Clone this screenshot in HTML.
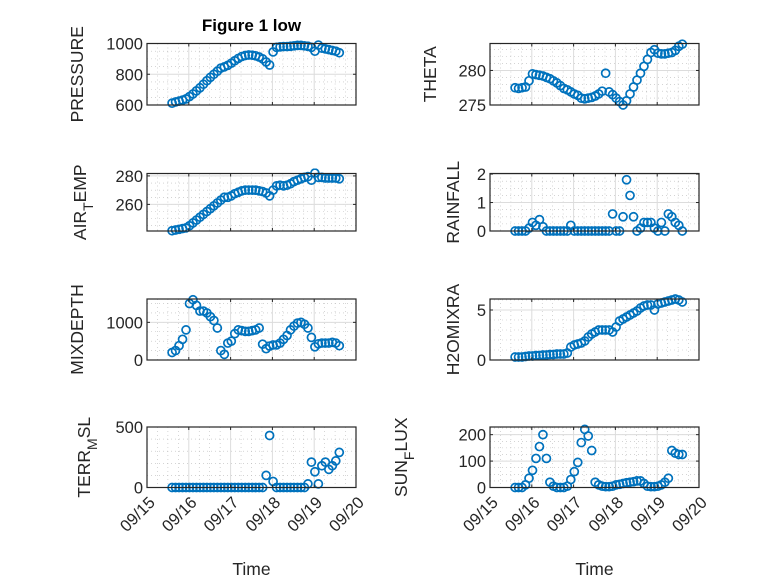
<!DOCTYPE html>
<html><head><meta charset="utf-8">
<style>
html,body{margin:0;padding:0;background:#fff;}
svg{display:block;font-family:"Liberation Sans","DejaVu Sans",sans-serif;}
</style></head>
<body>
<svg id="fig" width="778" height="583" viewBox="0 0 778 583"></svg>
<script>
// time: hours after 09/15 14:24 (day 15.6)
const hours = [0,2,4,6,8,10,12,14,16,18,20,22,24,26,28,30,32,34,36,38,40,42,44,46,48,50,52,54,56,58,60,62,64,66,68,70,72,74,76,78,80,82,84,86,88,90,92,94,96];
const xTickLabels = ["09/15","09/16","09/17","09/18","09/19","09/20"];
const pressure = [612,620,625,632,640,655,672,692,712,735,758,780,800,820,840,848,858,872,888,903,915,922,925,924,920,912,900,880,860,945,975,978,980,980,982,985,988,988,985,982,975,950,990,970,965,960,955,950,940];
const airTemp = [241.5,242,242.5,243,243.5,245,247,249,251,253,255,257,259,261,263,265,265,266,267.5,268.5,269.5,270,270,270,270,269.5,269,268,266,270,273,273.5,273,273.5,274.5,276,277,278,279,279.5,277,282,279,279,278.5,278.5,278.5,278.5,278];
const theta = [277.5,277.4,277.5,277.6,278.5,279.5,279.4,279.3,279.2,279.0,278.8,278.5,278.2,277.8,277.4,277.2,276.9,276.6,276.4,276.0,275.9,276.0,276.1,276.3,276.6,277.0,279.6,276.9,276.5,276.0,275.5,275.0,275.6,276.6,277.6,278.6,279.6,280.6,281.6,282.6,283.0,282.5,282.4,282.4,282.5,282.6,282.9,283.5,283.8];
const rainfall = [0,0,0,0,0.1,0.3,0.2,0.4,0.15,0,0,0,0,0,0,0,0.2,0,0,0,0,0,0,0,0,0,0,0,0.6,0,0,0.5,1.8,1.25,0.5,0,0.1,0.3,0.3,0.3,0.1,0,0.3,0,0.6,0.5,0.3,0.2,0];
const mixDepth = [200,250,380,550,800,1500,1600,1450,1300,1300,1250,1150,1050,850,250,150,450,500,700,800,780,760,760,780,800,850,420,300,370,400,400,450,550,650,800,900,980,1000,950,850,600,350,430,450,450,450,470,450,380];
const h2oMix = [0.3,0.3,0.3,0.35,0.4,0.4,0.45,0.45,0.5,0.5,0.55,0.55,0.6,0.6,0.6,0.7,1.3,1.5,1.6,1.7,1.9,2.3,2.6,2.8,3.0,3.0,3.0,3.0,2.8,3.3,3.9,4.1,4.3,4.5,4.7,4.9,5.2,5.4,5.5,5.5,5.0,5.6,5.7,5.8,5.9,6.0,6.1,6.0,5.8];
const terrMsl = [0,0,0,0,0,0,0,0,0,0,0,0,0,0,0,0,0,0,0,0,0,0,0,0,0,0,0,100,430,50,0,0,0,0,0,0,0,0,0,30,210,130,30,180,210,150,180,220,290];
const sunFlux = [0,0,0,10,35,65,110,155,200,110,20,5,0,0,0,5,30,60,95,170,220,195,140,20,10,5,3,3,5,10,12,15,18,20,22,25,25,15,5,3,3,5,10,20,35,140,130,125,125];

const NS="http://www.w3.org/2000/svg";
const svg=document.getElementById('fig');
function mk(tag,attrs,parent){const e=document.createElementNS(NS,tag);for(const k in attrs)e.setAttribute(k,attrs[k]);(parent||svg).appendChild(e);return e;}

const panels=[
 {id:'pressure',data:pressure,x0:147,x1:356,y0:43.5,y1:105,ymin:600,ymax:1000,ticks:[600,800,1000],minor:50,label:[['PRESSURE']],lx:77},
 {id:'theta',data:theta,x0:490,x1:699,y0:43.5,y1:105,ymin:275,ymax:283.9,ticks:[275,280],minor:1,label:[['THETA']],lx:430},
 {id:'air-temp',data:airTemp,x0:147,x1:356,y0:173.5,y1:231,ymin:241.3,ymax:281.7,ticks:[260,280],minor:5,label:[['AIR'],['T','sub'],['EMP']],lx:80},
 {id:'rainfall',data:rainfall,x0:490,x1:699,y0:173.5,y1:231,ymin:0,ymax:2.02,ticks:[0,1,2],minor:0.25,label:[['RAINFALL']],lx:453},
 {id:'mix-depth',data:mixDepth,x0:147,x1:356,y0:299,y1:360,ymin:0,ymax:1620,ticks:[0,1000],minor:250,label:[['MIXDEPTH']],lx:77},
 {id:'h2o-mix',data:h2oMix,x0:490,x1:699,y0:299,y1:360,ymin:0,ymax:6.1,ticks:[0,5],minor:1,label:[['H2OMIXRA']],lx:453},
 {id:'terr-msl',data:terrMsl,x0:147,x1:356,y0:427,y1:487.5,ymin:0,ymax:500,ticks:[0,500],minor:100,label:[['TERR'],['M','sub'],['SL']],lx:84,xlab:true},
 {id:'sun-flux',data:sunFlux,x0:490,x1:699,y0:427,y1:487.5,ymin:0,ymax:229,ticks:[0,100,200],minor:25,label:[['SUN'],['F','sub'],['LUX']],lx:401,xlab:true}
];
const col='#262626';
panels.forEach(p=>{
 const g=mk('g',{});
 
 
 const xs=d=>p.x0+(d-15)/5*(p.x1-p.x0);
 const ys=v=>p.y1-(v-p.ymin)/(p.ymax-p.ymin)*(p.y1-p.y0);
 for(let d=15.25;d<20;d+=0.25){if(Math.abs(d-Math.round(d))<1e-6)continue;mk('line',{x1:xs(d),x2:xs(d),y1:p.y0,y2:p.y1,stroke:'#bbb','stroke-width':0.6,'stroke-dasharray':'1 3'},g);}
 for(let v=Math.ceil(p.ymin/p.minor)*p.minor;v<=p.ymax;v+=p.minor){mk('line',{x1:p.x0,x2:p.x1,y1:ys(v),y2:ys(v),stroke:'#bbb','stroke-width':0.6,'stroke-dasharray':'1 3'},g);}
 for(let d=16;d<20;d++)mk('line',{x1:xs(d),x2:xs(d),y1:p.y0,y2:p.y1,stroke:'#dcdcdc','stroke-width':1},g);
 p.ticks.forEach(v=>mk('line',{x1:p.x0,x2:p.x1,y1:ys(v),y2:ys(v),stroke:'#dcdcdc','stroke-width':1},g));
 const clip=mk('clipPath',{id:'c'+p.id},g);mk('rect',{x:p.x0-5,y:p.y0-5,width:p.x1-p.x0+10,height:p.y1-p.y0+10},clip);
 const pg=mk('g',{'clip-path':'url(#c'+p.id+')'},g);
 p.data.forEach((v,i)=>{
  const c=mk('circle',{cx:xs(15.6+hours[i]/24),cy:ys(v),r:4,fill:'none',stroke:'#0072BD','stroke-width':1.7},pg);
  
  
 });
 mk('rect',{x:p.x0,y:p.y0,width:p.x1-p.x0,height:p.y1-p.y0,fill:'none',stroke:col,'stroke-width':1.2},g);
 p.ticks.forEach(v=>{
  mk('line',{x1:p.x0,x2:p.x0+3,y1:ys(v),y2:ys(v),stroke:col},g);
  mk('line',{x1:p.x1,x2:p.x1-3,y1:ys(v),y2:ys(v),stroke:col},g);
  const t=mk('text',{x:p.x0-4,y:ys(v)+6,'text-anchor':'end','font-size':16.5,fill:col},g);
  t.textContent=String(v);
  
  
 });
 for(let d=15;d<=20;d++){
  mk('line',{x1:xs(d),x2:xs(d),y1:p.y1,y2:p.y1-3,stroke:col},g);
  mk('line',{x1:xs(d),x2:xs(d),y1:p.y0,y2:p.y0+3,stroke:col},g);
  if(p.xlab){
   const ax=xs(d)+9, ay=p.y1+16;
   const t=mk('text',{x:ax,y:ay,'text-anchor':'end','font-size':16.5,fill:col,transform:'rotate(-45 '+ax+' '+ay+')'},g);
   t.textContent=xTickLabels[d-15];
   
   
  }
 }
 if(p.xlab){
  const t=mk('text',{x:(p.x0+p.x1)/2,y:575,'text-anchor':'middle','font-size':17.5,fill:col},g);
  t.textContent='Time';
  
  
 }
 const cy=(p.y0+p.y1)/2;
 const yl=mk('text',{x:p.lx,y:cy,'text-anchor':'middle','font-size':17.5,fill:col,transform:'rotate(-90 '+p.lx+' '+cy+')','dominant-baseline':'central'},g);
 
 
 p.label.forEach(s=>{const ts=mk('tspan',{},yl);ts.textContent=s[0];if(s[1]){ts.setAttribute('baseline-shift','sub');ts.setAttribute('font-size','14');}});
});
const title=mk('text',{x:251.5,y:31,'text-anchor':'middle','font-size':17,'font-weight':'bold',fill:'#000'});
title.textContent='Figure 1 low';


</script>
</body></html>
